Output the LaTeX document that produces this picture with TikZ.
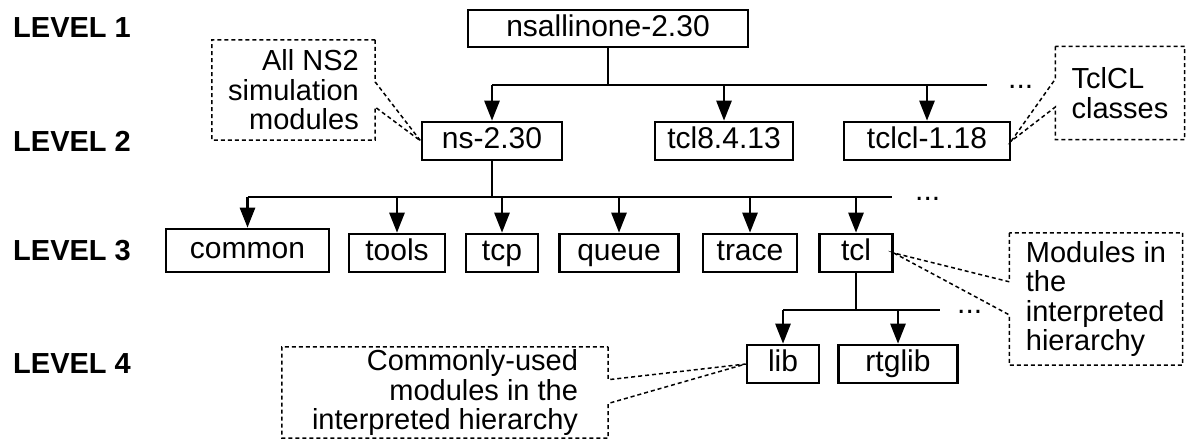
\documentclass[tikz,border=0pt]{standalone}
\usepackage{fontspec}
\setmainfont{Liberation Sans}
\usetikzlibrary{arrows.meta,calc}

\begin{document}
\begin{tikzpicture}[x=1pt,y=-1pt,
        font=\fontsize{30}{31}\selectfont,inner sep=0pt,
        dir/.style={draw,line width=2.6pt,minimum height=38pt,text height=21pt,text depth=6pt},
        lvl/.style={anchor=west,font=\fontsize{29}{30}\selectfont\bfseries},
        notetext/.style={font=\fontsize{29}{29.5}\selectfont},
        note/.style={line width=1.5pt,dash pattern=on 4pt off 3pt},
        line/.style={line width=2.6pt},
        arr/.style={line width=2.6pt,-{Triangle[length=20pt,width=15pt]}}]

    \useasboundingbox (0,0) rectangle (1188,440);

    \node[lvl] (l1) at (13,28) {LEVEL 1};
    \node[lvl] (l2) at (13,141) {LEVEL 2};
    \node[lvl] (l3) at (13,251) {LEVEL 3};
    \node[lvl] (l4) at (13,364) {LEVEL 4};

    \node[dir,minimum width=280pt,minimum height=37pt] (top) at (608,28.5) {nsallinone-2.30};

    \node[dir,minimum width=140pt] (ns) at (492,141) {ns-2.30};
    \node[dir,minimum width=138pt] (tcl8) at (724,141) {tcl8.4.13};
    \node[dir,minimum width=166pt] (tclcl) at (927,141) {tclcl-1.18};

    \node[dir,minimum width=163pt,minimum height=43pt] (common) at (247.5,250.5) {common};
    \node[dir,minimum width=96pt] (tools) at (397,253) {tools};
    \node[dir,minimum width=72pt] (tcp) at (502,253) {tcp};
    \node[dir,minimum width=119pt] (queue) at (619,253) {queue};
    \node[dir,minimum width=94pt] (trace) at (750,253) {trace};
    \node[dir,minimum width=73pt] (tcl) at (856,253) {tcl};

    \node[dir,minimum width=72pt] (lib) at (783,364) {lib};
    \node[dir,minimum width=119pt] (rtglib) at (898,364) {rtglib};

    \node[notetext,align=right,minimum width=163pt,minimum height=100pt] (nsnote) at (293.5,90) {All NS2\\simulation\\modules};
    \node[notetext,align=left,minimum width=129pt,minimum height=93pt] (tclclnote) at (1120,93) {TclCL\\classes};
    \node[notetext,align=left,minimum width=173pt,minimum height=132pt] (tclnote) at (1096,299) {Modules in\\the\\interpreted\\hierarchy};
    \node[notetext,align=right,minimum width=326pt,minimum height=91pt] (libnote) at (445,392.5) {Commonly-used\\modules in the\\interpreted hierarchy};

    % level 1 -> level 2
    \coordinate (b1) at (608,85);
    \coordinate (b1end) at (987,85);
    \draw[line] (top) -- (b1);
    \draw[line] (ns.north |- b1) -- (b1end);
    \foreach \n in {ns,tcl8,tclcl}
        \draw[arr] (\n.north |- b1) -- (\n.north);
    \node[anchor=base west] (dots1) at (1008,88) {...};

    % level 2 -> level 3
    \coordinate (b2) at (492,197);
    \coordinate (b2end) at (892,197);
    \draw[line] (ns) -- (b2);
    \draw[line] (common.north |- b2) -- (b2end);
    \foreach \n in {common,tools,tcp,queue,trace,tcl}
        \draw[arr] (\n.north |- b2) -- (\n.north);
    \node[anchor=base west] (dots2) at (915,200) {...};

    % level 3 -> level 4
    \coordinate (b3) at (856,310);
    \coordinate (b3end) at (940,310);
    \draw[line] (tcl) -- (b3);
    \draw[line] (lib.north |- b3) -- (b3end);
    \foreach \n in {lib,rtglib}
        \draw[arr] (\n.north |- b3) -- (\n.north);
    \node[anchor=base west] (dots3) at (957,313) {...};

    % callouts
    \draw[note] (nsnote.north east) -- ($(nsnote.north east)!.42!(nsnote.south east)$) -- (ns.west)
        -- ($(nsnote.north east)!.67!(nsnote.south east)$) -- (nsnote.south east)
        -- (nsnote.south west) -- (nsnote.north west) -- cycle;
    \draw[note] (tclclnote.north west) -- ($(tclclnote.north west)!.35!(tclclnote.south west)$) -- (tclcl.east)
        -- ($(tclclnote.north west)!.65!(tclclnote.south west)$) -- (tclclnote.south west)
        -- (tclclnote.south east) -- (tclclnote.north east) -- cycle;
    \draw[note] (tclnote.north west) -- ($(tclnote.north west)!.37!(tclnote.south west)$) -- (tcl.east)
        -- ($(tclnote.north west)!.62!(tclnote.south west)$) -- (tclnote.south west)
        -- (tclnote.south east) -- (tclnote.north east) -- cycle;
    \draw[note] (libnote.north east) -- ($(libnote.north east)!.36!(libnote.south east)$) -- (lib.west)
        -- ($(libnote.north east)!.62!(libnote.south east)$) -- (libnote.south east)
        -- (libnote.south west) -- (libnote.north west) -- cycle;
\end{tikzpicture}
\end{document}
